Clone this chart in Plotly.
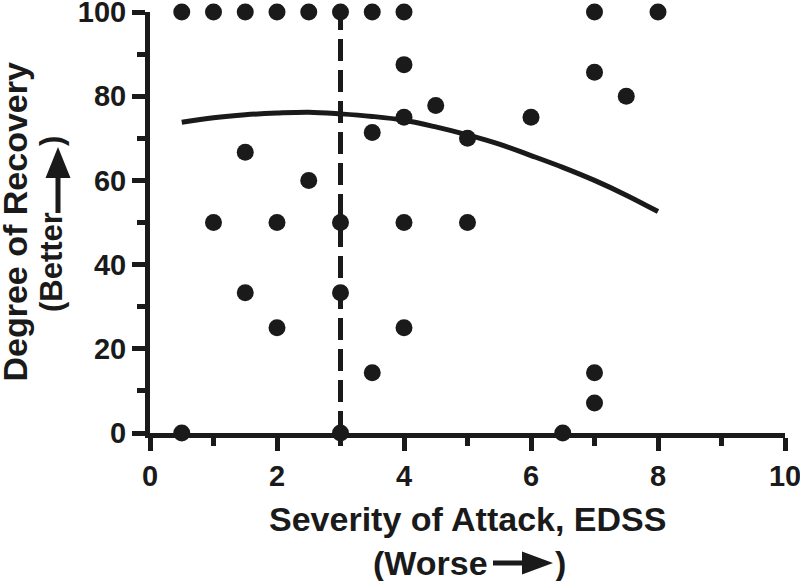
import plotly.graph_objects as go

# scatter data: EDSS severity vs degree of recovery
edss = [0.5, 1, 1.5, 2, 2.5, 3, 3.5, 4, 7, 8,
        4, 4.5, 4, 3.5, 1.5, 2.5,
        1, 2, 3, 4, 5,
        1.5, 3, 2, 4, 3.5,
        0.5, 3,
        7, 7.5, 6, 5, 7, 7, 6.5]
recovery = [100, 100, 100, 100, 100, 100, 100, 100, 100, 100,
            87.5, 77.8, 75, 71.4, 66.7, 60,
            50, 50, 50, 50, 50,
            33.3, 33.3, 25, 25, 14.3,
            0, 0,
            85.7, 80, 75, 70, 14.3, 7.1, 0]

# fitted curve
fit_x = [0.5, 1, 1.5, 2, 2.5, 3, 3.5, 4, 4.5, 5, 5.5, 6, 6.5, 7, 7.5, 8]
fit_y = [73.8, 74.9, 75.6, 76.0, 76.2, 75.8, 75.2, 74.3, 72.7, 70.8, 68.6, 65.9, 63.1, 60.0, 56.5, 52.6]

# cutoff line
cut_x = [3, 3]
cut_y = [0, 100]

x_ticks = [0, 2, 4, 6, 8, 10]
y_ticks = [0, 20, 40, 60, 80, 100]

FONT = "Liberation Sans, Arial, Helvetica, sans-serif"
INK = "#1a1a1a"

fig = go.Figure()
fig.add_trace(go.Scatter(x=cut_x, y=cut_y, mode="lines",
                         line=dict(color=INK, width=5, dash="22px,9px"),
                         hoverinfo="skip", cliponaxis=False))
fig.add_trace(go.Scatter(x=fit_x, y=fit_y, mode="lines",
                         line=dict(color=INK, width=5, shape="spline"),
                         hoverinfo="skip", cliponaxis=False))
fig.add_trace(go.Scatter(x=edss, y=recovery, mode="markers",
                         marker=dict(color=INK, size=17),
                         cliponaxis=False))

axis_common = dict(showgrid=False, zeroline=False, showline=True, linecolor=INK, linewidth=5,
                   ticks="outside", ticklen=13, tickwidth=5, tickcolor=INK,
                   ticklabeloverflow="allow", automargin=False,
                   tickfont=dict(family=FONT, size=29, weight="bold", color=INK))

fig.update_layout(
    width=800, height=581,
    margin=dict(l=150, r=15, t=12, b=148, autoexpand=False),
    paper_bgcolor="white", plot_bgcolor="white",
    showlegend=False,
    font=dict(family=FONT, color=INK),
    xaxis=dict(range=[0, 10], tickvals=x_ticks,
               minor=dict(dtick=1, ticks="outside", ticklen=8, tickwidth=5, tickcolor=INK, showgrid=False),
               **axis_common),
    yaxis=dict(range=[0, 100], tickvals=y_ticks,
               minor=dict(dtick=10, ticks="outside", ticklen=8, tickwidth=5, tickcolor=INK, showgrid=False),
               **axis_common),
)

tf = dict(family=FONT, size=34, color=INK)
# x-axis title
fig.add_annotation(text="<b>Severity of Attack, EDSS</b>", xref="paper", yref="paper",
                   x=0.5, y=0, yshift=-86, showarrow=False, yanchor="middle", font=tf)
fig.add_annotation(text="<b>(Worse</b>", xref="paper", yref="paper",
                   x=0, xshift=340, y=0, yshift=-130, showarrow=False,
                   xanchor="right", yanchor="middle", font=tf)
fig.add_annotation(text="<b>)</b>", xref="paper", yref="paper",
                   x=0, xshift=403, y=0, yshift=-130, showarrow=False,
                   xanchor="left", yanchor="middle", font=tf)
# y-axis title
fig.add_annotation(text="<b>Degree of Recovery</b>", xref="paper", yref="paper",
                   x=0, xshift=-136, y=0.5, showarrow=False, xanchor="center", textangle=-90, font=tf)
fig.add_annotation(text="<b>(Better</b>", xref="paper", yref="paper",
                   x=0, xshift=-99, y=0, yshift=119, showarrow=False,
                   xanchor="center", yanchor="bottom", textangle=-90,
                   font=dict(family=FONT, size=31, color=INK))
fig.add_annotation(text="<b>)</b>", xref="paper", yref="paper",
                   x=0, xshift=-99, y=0, yshift=285, showarrow=False,
                   xanchor="center", yanchor="bottom", textangle=-90,
                   font=dict(family=FONT, size=31, color=INK))

# arrows in the axis titles (pixel offsets from the plot origin)
fig.add_shape(type="path", xref="paper", yref="paper", xsizemode="pixel", ysizemode="pixel",
              xanchor=0, yanchor=0,
              path="M343,-127.5 L372,-127.5 L372,-118.5 L403,-130 L372,-141.5 L372,-132.5 L343,-132.5 Z",
              fillcolor=INK, line=dict(width=0))
fig.add_shape(type="path", xref="paper", yref="paper", xsizemode="pixel", ysizemode="pixel",
              xanchor=0, yanchor=0,
              path="M-94.5,220 L-94.5,255 L-104.5,255 L-92,286 L-79.5,255 L-89.5,255 L-89.5,220 Z",
              fillcolor=INK, line=dict(width=0))

fig.write_html("out.html", config={"displayModeBar": False},
               post_script="document.body.style.margin='0px';")
